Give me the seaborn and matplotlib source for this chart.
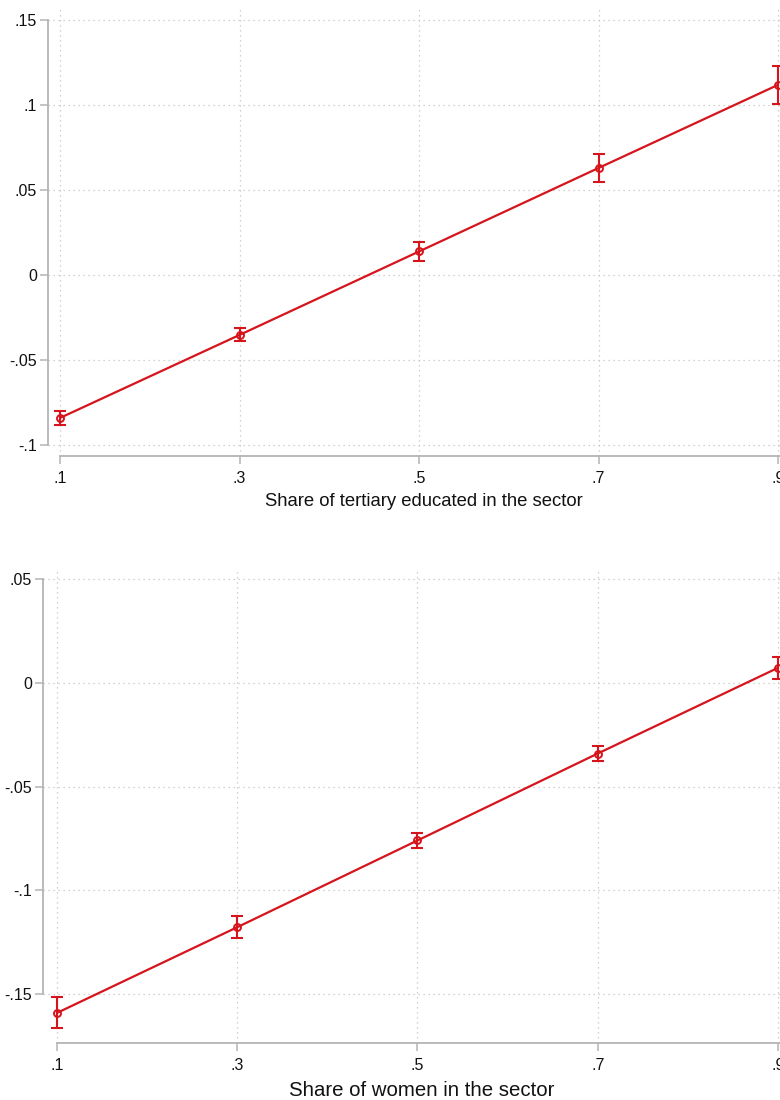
import matplotlib
matplotlib.use("Agg")
import matplotlib.pyplot as plt
import seaborn as sns
import pandas as pd

# ---------------------------------------------------
# Data
# ---------------------------------------------------

x_share = [0.1, 0.3, 0.5, 0.7, 0.9]
x_ticklabels = [".1", ".3", ".5", ".7", ".9"]

tertiary_effect = [-0.0841, -0.0353, 0.0138, 0.0629, 0.1118]
tertiary_ci = [0.0041, 0.0038, 0.0056, 0.0082, 0.0110]
tertiary_yticks = [-0.1, -0.05, 0.0, 0.05, 0.1, 0.15]
tertiary_yticklabels = ["-.1", "-.05", "0", ".05", ".1", ".15"]

women_effect = [-0.1591, -0.1178, -0.0760, -0.0341, 0.0072]
women_ci = [0.0075, 0.0053, 0.0038, 0.0038, 0.0053]
women_yticks = [-0.15, -0.1, -0.05, 0.0, 0.05]
women_yticklabels = ["-.15", "-.1", "-.05", "0", ".05"]

# ---------------------------------------------------
# Theme
# ---------------------------------------------------

sns.set_theme(style="white")
plt.rcParams["font.family"] = ["Liberation Sans", "DejaVu Sans"]

RED = "#d6141c"
AXIS_GRAY = "#b4b4b4"
GRID_GRAY = "#c4c4c4"


def stata_panel(fig, rect, xlim, ylim, yticks, yticklabels, values, ci,
                xlabel, label_size, tick_size, labelpad):

    ax = fig.add_axes(rect)

    df = pd.DataFrame({"x": x_share, "y": values, "ci": ci})

    ax.errorbar(
        df["x"], df["y"], yerr=df["ci"],
        fmt="none", ecolor=RED, elinewidth=1.5,
        capsize=4, capthick=1.5, zorder=3
    )

    sns.lineplot(
        data=df, x="x", y="y", ax=ax,
        color=RED, linewidth=1.6,
        marker="o", markersize=5,
        markerfacecolor="none", markeredgecolor=RED, markeredgewidth=1.4,
        zorder=4
    )

    ax.set_xlim(*xlim)
    ax.set_ylim(*ylim)

    ax.set_xticks(x_share)
    ax.set_xticklabels(x_ticklabels)
    ax.set_yticks(yticks)
    ax.set_yticklabels(yticklabels)

    ax.grid(True, linestyle=(0, (1, 3)), color=GRID_GRAY, linewidth=0.9)

    for side in ["top", "right"]:
        ax.spines[side].set_visible(False)

    ax.spines["left"].set_bounds(yticks[0], yticks[-1])
    ax.spines["bottom"].set_bounds(x_share[0], xlim[1])
    for side in ["left", "bottom"]:
        ax.spines[side].set_color(AXIS_GRAY)
        ax.spines[side].set_linewidth(1.3)

    ax.tick_params(
        axis="both", which="major", direction="out",
        length=5.5, width=1.1, color=AXIS_GRAY,
        labelsize=tick_size, labelcolor="#111111",
        bottom=True, left=True
    )
    ax.tick_params(axis="y", pad=2.5)
    ax.tick_params(axis="x", pad=5)

    ax.set_xlabel(xlabel, fontsize=label_size, color="#111111",
                  labelpad=labelpad)
    ax.set_ylabel("")

    return ax


fig = plt.figure(figsize=(7.8, 11), dpi=100)

stata_panel(
    fig, [48 / 780, 1 - 456 / 1100, 752 / 780, 449 / 1100],
    xlim=(0.0866, 0.9245), ylim=(-0.1065, 0.1576),
    yticks=tertiary_yticks, yticklabels=tertiary_yticklabels,
    values=tertiary_effect, ci=tertiary_ci,
    xlabel="Share of tertiary educated in the sector",
    label_size=13.3, tick_size=11.5, labelpad=5
)

stata_panel(
    fig, [43 / 780, 1 - 1043 / 1100, 757 / 780, 475 / 1100],
    xlim=(0.0845, 0.9244), ylim=(-0.1736, 0.0553),
    yticks=women_yticks, yticklabels=women_yticklabels,
    values=women_effect, ci=women_ci,
    xlabel="Share of women in the sector",
    label_size=14.7, tick_size=11.5, labelpad=6
)

fig.savefig("out.png", dpi=100)
plt.close(fig)
